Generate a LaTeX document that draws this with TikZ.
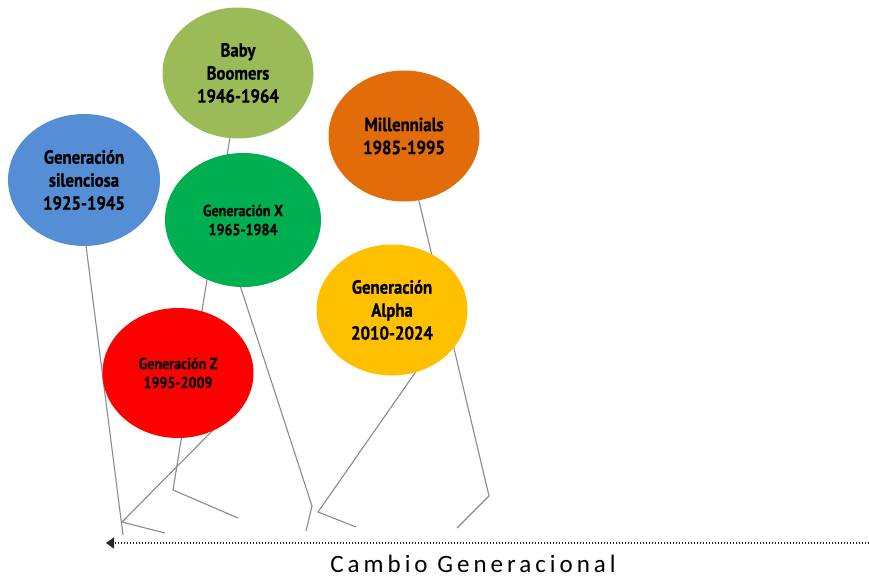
\documentclass[tikz,border=0pt]{standalone}
\usepackage{fontspec}
\setmainfont{PT Sans}
\newfontfamily\lblfont[FakeStretch=0.88,BoldFeatures={FakeBold=0.8}]{PT Sans}
\newfontfamily\capfont[LetterSpace=16]{Carlito}
\usetikzlibrary{shapes.geometric,arrows.meta,backgrounds}
\definecolor{cSil}{HTML}{558ED5}
\definecolor{cBB}{HTML}{9BBB59}
\definecolor{cMil}{HTML}{E36C0A}
\definecolor{cGX}{HTML}{00B050}
\definecolor{cAl}{HTML}{FFC000}
\definecolor{cGZ}{HTML}{FF0000}
\definecolor{cStr}{HTML}{8A8A8A}
\begin{document}
\begin{tikzpicture}[x=1pt,y=-1pt,
  balloon/.style={ellipse,draw=none,inner sep=0pt,minimum width=151pt,minimum height=131pt,
    align=center,text=black,font=\lblfont\bfseries\fontsize{19}{23}\selectfont},
  smalltext/.style={font=\lblfont\bfseries\fontsize{16}{19}\selectfont},
  balloonstring/.style={draw=cStr,line width=1.1pt,line join=miter},
  timeline/.style={draw=black!85,line width=1.7pt,dash pattern=on 1.4pt off 1.6pt,
    -{Triangle[length=8pt,width=11pt]}}]
\useasboundingbox (0,0) rectangle (869,577);

% balloons
\node[balloon,fill=cBB] (bb) at (238,73) {Baby\\Boomers\\1946-1964};
\node[balloon,fill=cSil,minimum width=152pt,minimum height=132pt] (sil) at (84,180) {Generación\\silenciosa\\1925-1945};
\node[balloon,fill=cMil] (mil) at (404,136) {Millennials\\1985-1995};
\node[balloon,fill=cGX,smalltext,minimum width=156pt,minimum height=134pt] (gx) at (243,220) {Generación X\\1965-1984};
\node[balloon,fill=cAl] (al) at (392,310) {Generación\\Alpha\\2010-2024};
\node[balloon,fill=cGZ,smalltext,minimum height=130pt] (gz) at (178,373) {Generación Z\\1995-2009};

% string ties (inside the balloons) and knees / feet
\coordinate (bbTie) at (232,125);
\coordinate (bbKnee) at (173,490);
\coordinate (bbFoot) at (238,518);
\coordinate (silTie) at (84,230);
\coordinate (silEnd) at (123,535);
\coordinate (gzTie) at (223,420);
\coordinate (gzKnee) at (122,522);
\coordinate (gzFoot) at (165,533);
\coordinate (gxTie) at (235,270);
\coordinate (gxKnee) at (312,506);
\coordinate (gxFoot) at (306,531);
\coordinate (alTie) at (424,360);
\coordinate (alKnee) at (318,512);
\coordinate (alFoot) at (356,527);
\coordinate (milTie) at (414,180);
\coordinate (milKnee) at (489,496);
\coordinate (milFoot) at (457,528);

\begin{pgfonlayer}{background}
\draw[balloonstring] (bbTie) -- (bbKnee) -- (bbFoot);
\draw[balloonstring] (silTie) -- (silEnd);
\draw[balloonstring] (gzTie) -- (gzKnee) -- (gzFoot);
\draw[balloonstring] (gxTie) -- (gxKnee) -- (gxFoot);
\draw[balloonstring] (alTie) -- (alKnee) -- (alFoot);
\draw[balloonstring] (milTie) -- (milKnee) -- (milFoot);
\end{pgfonlayer}

% timeline
\coordinate (tlStart) at (869,543);
\coordinate (tlEnd) at (106,543);
\draw[timeline] (tlStart) -- (tlEnd);
\node[font=\capfont\fontsize{25}{28}\selectfont,anchor=base,inner sep=0pt] (cap) at (473,572) {Cambio Generacional};
\end{tikzpicture}
\end{document}
